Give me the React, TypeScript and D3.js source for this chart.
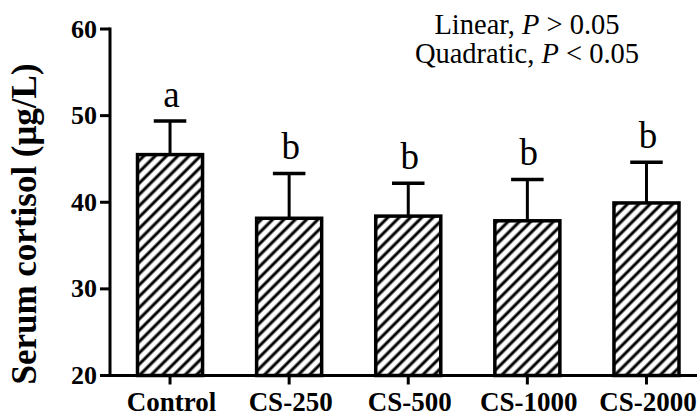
import React from "react";
import * as d3 from "d3";

const categories = ["Control", "CS-250", "CS-500", "CS-1000", "CS-2000"];
const means = [45.5, 38.15, 38.4, 37.86, 39.92];
const errors = [3.88, 5.17, 3.78, 4.77, 4.7];
const letters = ["a", "b", "b", "b", "b"];
const yTicks = [20, 30, 40, 50, 60];
const yTitle = "Serum cortisol (μg/L)";

const W = 697;
const H = 417;
const serif = "'Liberation Serif', 'Times New Roman', Times, serif";

export default function App() {
  const x = d3
    .scaleBand<string>()
    .domain(categories)
    .range([110, 706.5])
    .paddingInner(0.454)
    .paddingOuter(0.231);
  const y = d3.scaleLinear().domain([20, 60]).range([375.5, 29]);
  const bw = x.bandwidth();
  const axisX = 110;
  const axisY = y(20);

  return (
    <svg
      width={W}
      height={H}
      style={{ position: "absolute", left: 0, top: 0, display: "block", background: "#fff" }}
    >
      <defs>
        <pattern
          id="hatch"
          patternUnits="userSpaceOnUse"
          width={8}
          height={8}
          patternTransform="rotate(45)"
        >
          <rect width={8} height={8} fill="#fff" />
          <line x1={4} y1={-1} x2={4} y2={9} stroke="#000" strokeWidth={3} />
        </pattern>
      </defs>
      <rect x={0} y={0} width={W} height={H} fill="#fff" />

      {/* bars */}
      {categories.map((c, i) => {
        const x0 = x(c) as number;
        const cx = x0 + bw / 2;
        const top = y(means[i]);
        const capY = y(means[i] + errors[i]);
        return (
          <g key={c}>
            <line x1={cx} x2={cx} y1={top} y2={capY} stroke="#000" strokeWidth={3} />
            <line x1={cx - bw / 4} x2={cx + bw / 4} y1={capY} y2={capY} stroke="#000" strokeWidth={3.5} />
            <rect
              x={x0}
              y={top}
              width={bw}
              height={axisY - top}
              fill="url(#hatch)"
              stroke="#000"
              strokeWidth={3.5}
            />
            <text
              x={cx + 1.5}
              y={capY - 14}
              textAnchor="middle"
              fontFamily={serif}
              fontSize={37}
              fill="#000"
            >
              {letters[i]}
            </text>
          </g>
        );
      })}

      {/* y axis */}
      <line x1={axisX} x2={axisX} y1={y(60) - 1.5} y2={axisY} stroke="#000" strokeWidth={3} />
      {yTicks.map((t) => (
        <g key={t}>
          <line x1={axisX - 10} x2={axisX} y1={y(t)} y2={y(t)} stroke="#000" strokeWidth={3} />
          <text
            x={97}
            y={y(t)}
            dy="0.33em"
            textAnchor="end"
            fontFamily={serif}
            fontWeight="bold"
            fontSize={26}
            fill="#000"
          >
            {t}
          </text>
        </g>
      ))}

      {/* x axis */}
      <line x1={axisX - 10} x2={W} y1={axisY} y2={axisY} stroke="#000" strokeWidth={3} />
      {categories.map((c) => {
        const cx = (x(c) as number) + bw / 2;
        return (
          <g key={c}>
            <line x1={cx} x2={cx} y1={axisY} y2={axisY + 9} stroke="#000" strokeWidth={3} />
            <text
              x={cx + 1.5}
              y={411}
              textAnchor="middle"
              fontFamily={serif}
              fontWeight="bold"
              fontSize={27}
              fill="#000"
            >
              {c}
            </text>
          </g>
        );
      })}

      {/* y title */}
      <text
        transform={`translate(36, 224) rotate(-90)`}
        textAnchor="middle"
        fontFamily={serif}
        fontWeight="bold"
        fontSize={35}
        fill="#000"
      >
        {yTitle}
      </text>

      {/* trend annotation */}
      <text x={527} y={34} textAnchor="middle" fontFamily={serif} fontSize={28.5} fill="#000">
        Linear, <tspan fontStyle="italic">P</tspan> {">"} 0.05
      </text>
      <text x={527} y={63} textAnchor="middle" fontFamily={serif} fontSize={28.5} fill="#000">
        Quadratic, <tspan fontStyle="italic">P</tspan> {"<"} 0.05
      </text>
    </svg>
  );
}
